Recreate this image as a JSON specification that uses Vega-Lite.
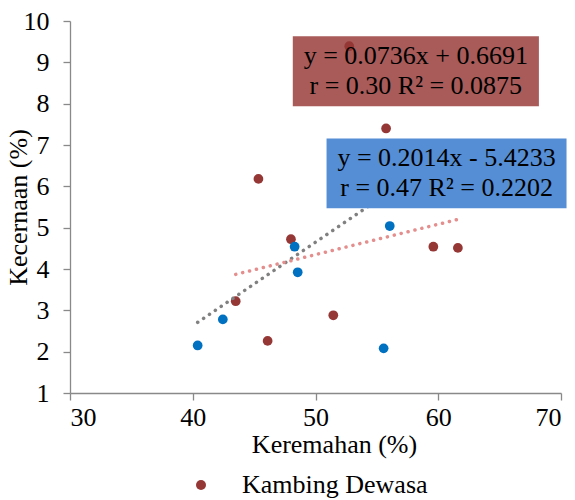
{
  "$schema": "https://vega.github.io/schema/vega-lite/v6.json",
  "width": 491,
  "height": 372,
  "autosize": {"type": "none"},
  "padding": {"left": 70, "top": 21, "right": 14, "bottom": 107},
  "config": {
    "font": "Liberation Serif",
    "view": {"stroke": null},
    "axis": {
      "grid": false,
      "domainColor": "#898989",
      "tickColor": "#898989",
      "domainWidth": 1.3,
      "tickWidth": 1.3,
      "tickSize": 7,
      "labelFont": "Liberation Serif",
      "labelFontSize": 26,
      "labelColor": "#000000",
      "titleFont": "Liberation Serif",
      "titleFontSize": 26,
      "titleFontWeight": "normal",
      "titleColor": "#000000"
    },
    "legend": {"labelFont": "Liberation Serif", "labelFontSize": 26, "labelColor": "#000000", "labelLimit": 0}
  },
  "datasets": {
    "points": [
      {"keremahan": 43.5, "kecernaan": 3.22, "series": "Kambing Dewasa"},
      {"keremahan": 48.0, "kecernaan": 4.72, "series": "Kambing Dewasa"},
      {"keremahan": 46.1, "kecernaan": 2.26, "series": "Kambing Dewasa"},
      {"keremahan": 51.45, "kecernaan": 2.88, "series": "Kambing Dewasa"},
      {"keremahan": 59.6, "kecernaan": 4.54, "series": "Kambing Dewasa"},
      {"keremahan": 61.6, "kecernaan": 4.51, "series": "Kambing Dewasa"},
      {"keremahan": 45.35, "kecernaan": 6.18, "series": "Kambing Dewasa"},
      {"keremahan": 52.75, "kecernaan": 9.39, "series": "Kambing Dewasa"},
      {"keremahan": 55.75, "kecernaan": 7.4, "series": "Kambing Dewasa"},
      {"keremahan": 40.4, "kecernaan": 2.15, "series": "Kambing Muda"},
      {"keremahan": 42.45, "kecernaan": 2.78, "series": "Kambing Muda"},
      {"keremahan": 48.3, "kecernaan": 4.54, "series": "Kambing Muda"},
      {"keremahan": 48.55, "kecernaan": 3.92, "series": "Kambing Muda"},
      {"keremahan": 55.55, "kecernaan": 2.08, "series": "Kambing Muda"},
      {"keremahan": 56.05, "kecernaan": 5.04, "series": "Kambing Muda"}
    ],
    "trendMuda": [
      {"keremahan": 40.4, "kecernaan": 2.71},
      {"keremahan": 56.05, "kecernaan": 5.87}
    ],
    "trendDewasa": [
      {"keremahan": 43.5, "kecernaan": 3.87},
      {"keremahan": 61.6, "kecernaan": 5.2}
    ],
    "boxDewasa": [
      {"x1": 48.15, "x2": 68.2, "y1": 9.63, "y2": 7.94, "cx": 58.17, "cy": 8.785, "label": "y = 0.0736x + 0.6691\nr = 0.30 R² = 0.0875"}
    ],
    "boxMuda": [
      {"x1": 50.9, "x2": 70.45, "y1": 7.16, "y2": 5.47, "cx": 60.68, "cy": 6.315, "label": "y = 0.2014x - 5.4233\nr = 0.47 R² = 0.2202"}
    ]
  },
  "layer": [
    {
      "data": {"name": "points"},
      "mark": {"type": "circle", "size": 95, "opacity": 1},
      "encoding": {
        "x": {
          "field": "keremahan", "type": "quantitative",
          "scale": {"domain": [30, 70], "nice": false, "zero": false},
          "axis": {"values": [30, 40, 50, 60, 70], "title": "Keremahan (%)", "labelPadding": 4, "titlePadding": 1, "titleX": 264}
        },
        "y": {
          "field": "kecernaan", "type": "quantitative",
          "scale": {"domain": [1, 10], "nice": false, "zero": false},
          "axis": {"values": [1, 2, 3, 4, 5, 6, 7, 8, 9, 10], "title": "Kecernaan (%)", "labelPadding": 14, "titlePadding": -8}
        },
        "color": {
          "field": "series", "type": "nominal",
          "scale": {"domain": ["Kambing Dewasa", "Kambing Muda"], "range": ["#953735", "#0070C0"]},
          "legend": {
            "values": ["Kambing Dewasa"],
            "title": null,
            "orient": "none",
            "legendX": 118,
            "legendY": 451,
            "symbolType": "circle",
            "symbolSize": 100,
            "symbolOpacity": 1,
            "labelOffset": 28
          }
        }
      }
    },
    {
      "data": {"name": "trendMuda"},
      "mark": {"type": "line", "color": "#808080", "strokeWidth": 3.5, "strokeDash": [0.1, 7], "strokeCap": "round"},
      "encoding": {
        "x": {"field": "keremahan", "type": "quantitative"},
        "y": {"field": "kecernaan", "type": "quantitative"}
      }
    },
    {
      "data": {"name": "trendDewasa"},
      "mark": {"type": "line", "color": "#E48F8E", "strokeWidth": 3.5, "strokeDash": [0.1, 7], "strokeCap": "round"},
      "encoding": {
        "x": {"field": "keremahan", "type": "quantitative"},
        "y": {"field": "kecernaan", "type": "quantitative"}
      }
    },
    {
      "data": {"name": "boxDewasa"},
      "mark": {"type": "rect", "color": "#953735", "opacity": 0.82},
      "encoding": {
        "x": {"field": "x1", "type": "quantitative"},
        "x2": {"field": "x2"},
        "y": {"field": "y1", "type": "quantitative"},
        "y2": {"field": "y2"}
      }
    },
    {
      "data": {"name": "boxDewasa"},
      "mark": {"type": "text", "font": "Liberation Serif", "fontSize": 26, "lineBreak": "\n", "lineHeight": 30, "align": "center", "baseline": "middle", "dy": -15, "color": "#000000"},
      "encoding": {
        "x": {"field": "cx", "type": "quantitative"},
        "y": {"field": "cy", "type": "quantitative"},
        "text": {"field": "label"}
      }
    },
    {
      "data": {"name": "boxMuda"},
      "mark": {"type": "rect", "color": "#558ED5", "opacity": 1},
      "encoding": {
        "x": {"field": "x1", "type": "quantitative"},
        "x2": {"field": "x2"},
        "y": {"field": "y1", "type": "quantitative"},
        "y2": {"field": "y2"}
      }
    },
    {
      "data": {"name": "boxMuda"},
      "mark": {"type": "text", "font": "Liberation Serif", "fontSize": 26, "lineBreak": "\n", "lineHeight": 30, "align": "center", "baseline": "middle", "dy": -15, "color": "#000000"},
      "encoding": {
        "x": {"field": "cx", "type": "quantitative"},
        "y": {"field": "cy", "type": "quantitative"},
        "text": {"field": "label"}
      }
    }
  ]
}
